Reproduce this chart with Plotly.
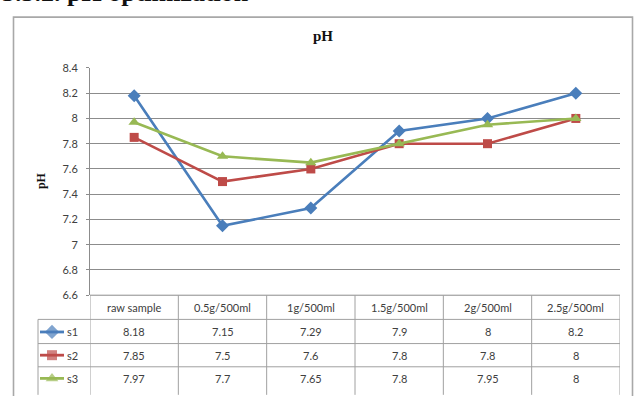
import plotly.graph_objects as go

# ---- data ----
categories = ["raw sample", "0.5g/500ml", "1g/500ml", "1.5g/500ml", "2g/500ml", "2.5g/500ml"]
series_names = ["s1", "s2", "s3"]
s1 = [8.18, 7.15, 7.29, 7.9, 8, 8.2]
s2 = [7.85, 7.5, 7.6, 7.8, 7.8, 8]
s3 = [7.97, 7.7, 7.65, 7.8, 7.95, 8]
y_ticks = [6.6, 6.8, 7, 7.2, 7.4, 7.6, 7.8, 8, 8.2, 8.4]

series_values = [s1, s2, s3]
colors = ["#4A7EBB", "#BE4B48", "#98B954"]
symbols = ["diamond", "square", "triangle-up"]
marker_sizes = [10, 9, 10]

W, H = 635, 396


def px(x):
    return x / W


def py(y):
    return 1 - y / H


PLOT_L, PLOT_R, PLOT_T, PLOT_B = 90, 620, 63, 298
ROW_LINES = [298, 323, 348, 372]
ROW_CENTERS = [311, 336, 360, 384]
LABEL_COL_L = 38
GRID = "#8C8C8C"
TABLE_LINE = "#A0A0A0"
TXT = "#404040"
SANS = "Lato, 'Open Sans', sans-serif"
SERIF = "'Liberation Serif', 'DejaVu Serif', serif"

fig = go.Figure()
x_idx = list(range(len(categories)))

for name, vals, col, sym, ms in zip(series_names, series_values, colors, symbols, marker_sizes):
    fig.add_trace(go.Scatter(
        x=x_idx, y=vals, name=name, mode="lines+markers",
        line=dict(color=col, width=2.6),
        marker=dict(symbol=sym, size=ms, color=col),
        showlegend=False, xaxis="x", yaxis="y", cliponaxis=False,
    ))

# legend keys inside the data table (pixel-space axes spanning the page)
for k, (name, col, sym, ms) in enumerate(zip(series_names, colors, symbols, marker_sizes)):
    yc = ROW_CENTERS[k + 1]
    fig.add_trace(go.Scatter(
        x=[40, 52, 64], y=[yc, yc, yc], mode="lines+markers",
        line=dict(color=col, width=2.8),
        marker=dict(symbol=sym, size=[0, ms + 1, 0], color=col, line=dict(width=0)),
        showlegend=False, xaxis="x2", yaxis="y2", hoverinfo="skip", cliponaxis=False,
    ))

shapes = []
annotations = []

# outer chart frame
shapes.append(dict(type="rect", xref="paper", yref="paper",
                   x0=px(13.5), x1=px(632.5), y0=py(420), y1=py(10.5),
                   line=dict(color="#A8A8A8", width=1.6), layer="below"))

# table horizontal rules
shapes.append(dict(type="line", xref="paper", yref="paper",
                   x0=px(PLOT_L), x1=px(PLOT_R), y0=py(ROW_LINES[0]), y1=py(ROW_LINES[0]),
                   line=dict(color=GRID, width=1)))
for yl in ROW_LINES[1:]:
    shapes.append(dict(type="line", xref="paper", yref="paper",
                       x0=px(LABEL_COL_L), x1=px(PLOT_R), y0=py(yl), y1=py(yl),
                       line=dict(color=TABLE_LINE, width=1)))
# table vertical rules at category boundaries
for i in range(-1, len(categories)):
    shapes.append(dict(type="line", xref="x", yref="paper",
                       x0=i + 0.5, x1=i + 0.5, y0=py(ROW_LINES[0]), y1=py(H + 5),
                       line=dict(color=TABLE_LINE, width=1)))
shapes.append(dict(type="line", xref="paper", yref="paper",
                   x0=px(LABEL_COL_L), x1=px(LABEL_COL_L), y0=py(ROW_LINES[1]), y1=py(H + 5),
                   line=dict(color=TABLE_LINE, width=1)))

# table text: header row and values
for i, cat in enumerate(categories):
    annotations.append(dict(x=i, y=py(ROW_CENTERS[0]), xref="x", yref="paper",
                            xanchor="center", yanchor="middle",
                            text=cat, showarrow=False, font=dict(family=SANS, size=11, color=TXT)))
    for k, vals in enumerate(series_values):
        annotations.append(dict(x=i, y=py(ROW_CENTERS[k + 1]), xref="x", yref="paper",
                                xanchor="center", yanchor="middle",
                                text=f"{vals[i]:g}", showarrow=False,
                                font=dict(family=SANS, size=11, color=TXT)))
for k, name in enumerate(series_names):
    annotations.append(dict(x=px(65), y=py(ROW_CENTERS[k + 1]), xref="paper", yref="paper",
                            text=name, showarrow=False, xanchor="left", yanchor="middle",
                            font=dict(family=SANS, size=11, color=TXT)))

# titles
annotations.append(dict(x=px(323), y=py(30), xref="paper", yref="paper", text="<b>pH</b>",
                        xanchor="center", yanchor="middle",
                        showarrow=False, font=dict(family=SERIF, size=15, color="#111")))
annotations.append(dict(x=px(41), y=py(180), xref="paper", yref="paper", text="<b>pH</b>",
                        xanchor="center", yanchor="middle",
                        showarrow=False, textangle=-90, font=dict(family=SERIF, size=12, color="#111")))
annotations.append(dict(x=px(0), y=py(2), xref="paper", yref="paper", xanchor="left", yanchor="bottom",
                        text="<b>3.3.2. pH optimization</b>", showarrow=False,
                        font=dict(family=SERIF, size=26, color="#111")))

fig.update_layout(
    width=W, height=H, margin=dict(l=0, r=0, t=0, b=0),
    paper_bgcolor="white", plot_bgcolor="rgba(0,0,0,0)",
    xaxis=dict(domain=[px(PLOT_L), px(PLOT_R)], range=[-0.5, len(categories) - 0.5],
               showticklabels=False, showgrid=False, zeroline=False, fixedrange=True),
    yaxis=dict(domain=[py(PLOT_B), py(PLOT_T)], range=[6.6, 8.4], tickvals=y_ticks,
               ticktext=[f"{v:g}" for v in y_ticks],
               showgrid=True, gridcolor=GRID, gridwidth=1, zeroline=False,
               showline=True, linecolor=GRID, linewidth=1,
               ticks="outside", ticklen=3, tickcolor=GRID, ticklabelstandoff=6,
               tickfont=dict(family=SANS, size=11, color=TXT)),
    xaxis2=dict(domain=[0, 1], range=[0, W], visible=False, anchor="y2"),
    yaxis2=dict(domain=[0, 1], range=[H, 0], visible=False, anchor="x2"),
    shapes=shapes, annotations=annotations,
)

fig.write_html("out.html")
